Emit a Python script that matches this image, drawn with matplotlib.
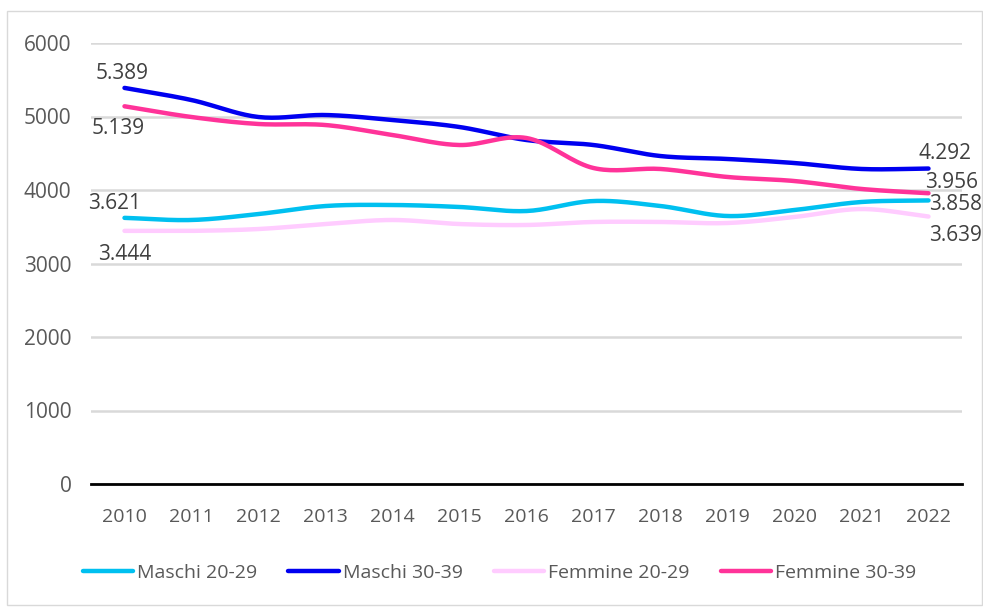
import matplotlib

matplotlib.use("Agg")
import matplotlib.pyplot as plt
import numpy as np
from matplotlib.patches import Rectangle

years = ["2010", "2011", "2012", "2013", "2014", "2015", "2016",
         "2017", "2018", "2019", "2020", "2021", "2022"]
maschi_20_29 = [3621, 3592, 3673, 3782, 3796, 3769, 3714, 3850, 3782, 3646, 3728, 3837, 3858]
maschi_30_39 = [5389, 5224, 4993, 5020, 4952, 4857, 4680, 4612, 4462, 4422, 4367, 4286, 4292]
femmine_20_29 = [3444, 3444, 3469, 3537, 3592, 3537, 3524, 3565, 3565, 3551, 3633, 3741, 3639]
femmine_30_39 = [5139, 4993, 4898, 4884, 4748, 4612, 4707, 4299, 4286, 4177, 4122, 4014, 3956]

series = [
    ("Maschi 20-29", maschi_20_29, "#00C0F0"),
    ("Maschi 30-39", maschi_30_39, "#0000F0"),
    ("Femmine 20-29", femmine_20_29, "#FFCCFF"),
    ("Femmine 30-39", femmine_30_39, "#FF3399"),
]


def smooth(x, y, n=20):
    # Catmull-Rom style curve through the points, like Excel's smoothed lines
    x = np.asarray(x, float)
    y = np.asarray(y, float)
    px = np.concatenate([[2 * x[0] - x[1]], x, [2 * x[-1] - x[-2]]])
    py = np.concatenate([[2 * y[0] - y[1]], y, [2 * y[-1] - y[-2]]])
    xs, ys = [], []
    t = np.linspace(0, 1, n, endpoint=False)
    for i in range(1, len(px) - 2):
        for p, out in ((px, xs), (py, ys)):
            p0, p1, p2, p3 = p[i - 1], p[i], p[i + 1], p[i + 2]
            out.append(0.5 * (2 * p1 + (-p0 + p2) * t
                              + (2 * p0 - 5 * p1 + 4 * p2 - p3) * t ** 2
                              + (-p0 + 3 * p1 - 3 * p2 + p3) * t ** 3))
    xs.append([x[-1]])
    ys.append([y[-1]])
    return np.concatenate(xs), np.concatenate(ys)


def fmt(v):
    return f"{v:,}".replace(",", ".")


plt.rcParams["font.family"] = ["Open Sans", "DejaVu Sans"]

fig = plt.figure(figsize=(9.83, 6.10), dpi=100)
ax = fig.add_axes([91 / 983, 1 - 484 / 610, 871 / 983, 441 / 610])
fig.patches.append(Rectangle((7 / 983, 5 / 610), 975 / 983, 594 / 610,
                             transform=fig.transFigure, fill=False,
                             edgecolor="#d9d9d9", linewidth=1))

x = np.arange(len(years))
for name, vals, color in series:
    sx, sy = smooth(x, vals)
    ax.plot(sx, sy, color=color, linewidth=3.2, solid_capstyle="round", label=name)

ax.set_xlim(-0.5, len(years) - 0.5)
ax.set_ylim(0, 6000)
ax.set_yticks(range(0, 6001, 1000))
ax.set_xticks(x)
ax.set_xticklabels(years)
ax.grid(axis="y", color="#d9d9d9", linewidth=1.8)
ax.set_axisbelow(True)
for s in ("top", "right", "left"):
    ax.spines[s].set_visible(False)
ax.spines["bottom"].set_color("black")
ax.spines["bottom"].set_linewidth(2)
ax.tick_params(length=0, colors="#595959")
ax.tick_params(axis="x", labelsize=14, pad=17)
ax.tick_params(axis="y", labelsize=15, pad=14)

# data labels at the first and last year (offsets in category / data units)
lab = dict(fontsize=15, color="#404040", ha="center", va="center")
first, last = 0, len(years) - 1
ax.text(first - 0.03, maschi_30_39[first] + 190, fmt(maschi_30_39[first]), **lab)
ax.text(first - 0.1, femmine_30_39[first] - 300, fmt(femmine_30_39[first]), **lab)
ax.text(first - 0.15, maschi_20_29[first] + 200, fmt(maschi_20_29[first]), **lab)
ax.text(first + 0.0, femmine_20_29[first] - 320, fmt(femmine_20_29[first]), **lab)
ax.text(last + 0.25, maschi_30_39[last] + 210, fmt(maschi_30_39[last]), **lab)
ax.text(last + 0.35, femmine_30_39[last] + 150, fmt(femmine_30_39[last]), **lab)
ax.text(last + 0.4, maschi_20_29[last] - 60, fmt(maschi_20_29[last]), **lab)
ax.text(last + 0.4, femmine_20_29[last] - 260, fmt(femmine_20_29[last]), **lab)

leg = fig.legend(loc="center", bbox_to_anchor=(0.508, 1 - 573 / 610), ncol=4,
                 frameon=False, handlelength=2.6, handletextpad=0.2,
                 columnspacing=1.6, prop={"size": 14})
for t in leg.get_texts():
    t.set_color("#595959")

fig.savefig("out.png", dpi=100)
